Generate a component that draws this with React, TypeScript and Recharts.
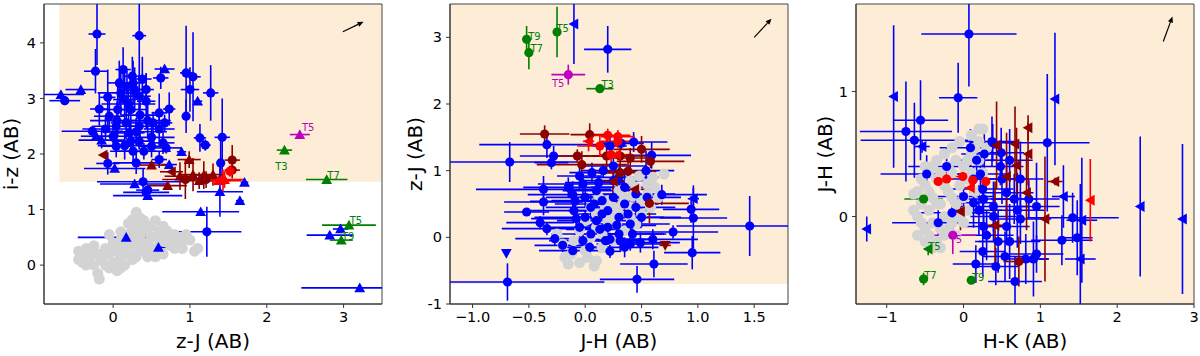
import React from "react";
import {
  ScatterChart,
  Scatter,
  XAxis,
  YAxis,
  ErrorBar,
  ReferenceArea,
  ReferenceLine,
} from "recharts";

// rows: [x, y, xerr, yerr, marker]  marker: o circle, ^ up, < left, v down
type Row = [number, number, number, number, string];
type Tag = [number, number, string, string];

// ---------- panel 1: i-z vs z-J ----------
const p1Gray: [number, number][] = [
  [-0.45, 0.25], [-0.35, 0.3], [-0.3, 0.15], [-0.25, 0.35], [-0.2, 0.2], [-0.15, 0.1],
  [-0.1, 0.3], [-0.05, 0.2], [0, 0.05], [0, 0.4], [0.05, 0.25], [0.1, 0.15], [0.1, 0.45],
  [0.15, 0.3], [0.2, 0.55], [0.2, 0.2], [0.25, 0.4], [0.3, 0.7], [0.3, 0.3], [0.35, 0.85],
  [0.35, 0.5], [0.4, 0.6], [0.4, 0.25], [0.45, 0.4], [0.5, 0.7], [0.5, 0.5], [0.55, 0.3],
  [0.6, 0.6], [0.6, 0.45], [0.65, 0.7], [0.7, 0.5], [0.75, 0.35], [0.8, 0.55], [0.85, 0.4],
  [0.9, 0.3], [1.0, 0.45], [0.95, 0.55], [-0.1, 0.0], [0.15, 0.0], [0.05, -0.1], [-0.25, 0.0],
  [-0.2, -0.15], [0.25, 0.1], [0.45, 0.15], [0.65, 0.2], [-0.4, 0.05], [0.2, 0.75], [0.45, 0.65],
  [0.55, 0.8], [0.1, 0.6], [-0.05, 0.55], [0.3, 0.95], [1.06, 0.25], [0.95, 0.47],
  [-0.38, 0.15], [-0.28, 0.22], [-0.12, 0.22], [0.02, 0.32], [0.08, 0.08], [0.18, 0.42],
  [0.28, 0.52], [0.38, 0.38], [0.48, 0.3], [0.58, 0.52], [0.68, 0.42], [0.78, 0.45],
  [0.88, 0.5], [0.7, 0.62], [0.25, 0.62], [0.35, 0.72], [0.4, 0.8], [-0.45, 0.1],
  [-0.35, 0.0], [-0.05, -0.05], [0.1, -0.05], [0.3, 0.15], [0.55, 0.15], [0.8, 0.3],
  [1.1, 0.3], [0.25, 0.82], [-0.18, -0.25],
];
const p1Blue: Row[] = [
  [-0.21, 4.16, 0.11, 0.56, "o"], [0.34, 4.13, 0.09, 0.6, "o"], [-0.23, 3.49, 0.15, 0.4, "o"],
  [0.67, 3.53, 0.13, 0.05, "^"], [0.62, 3.37, 0.1, 0.2, "o"], [0.13, 3.52, 0.1, 0.4, "o"],
  [0.95, 3.46, 0.08, 0.85, "o"], [1.04, 3.39, 0.1, 0.8, "o"], [1.0, 3.16, 0.12, 0.4, "o"],
  [1.27, 3.1, 0.1, 0.5, "o"], [-0.68, 3.07, 0.3, 0.05, "^"], [-0.63, 2.96, 0.2, 0.08, "o"],
  [-0.42, 3.16, 0.2, 0.05, "^"], [-0.07, 3.02, 0.1, 0.5, "o"], [-0.18, 2.81, 0.12, 0.3, "o"],
  [1.1, 2.95, 0.06, 0.05, "^"], [0.26, 3.28, 0.15, 0.4, "o"], [0.34, 3.04, 0.15, 0.5, "o"],
  [0.43, 2.95, 0.12, 0.5, "o"], [0.06, 2.8, 0.2, 0.5, "o"], [0.73, 2.81, 0.08, 0.3, "o"],
  [0.95, 2.68, 0.05, 0.3, "o"], [0.6, 2.74, 0.1, 0.35, "o"], [-0.05, 2.68, 0.2, 0.3, "o"],
  [0.17, 2.56, 0.2, 0.3, "o"], [0.34, 2.5, 0.2, 0.4, "o"], [0.52, 2.56, 0.15, 0.2, "o"],
  [0.67, 2.56, 0.1, 0.15, "o"], [-0.27, 2.41, 0.4, 0.1, "o"], [-0.22, 2.32, 0.2, 0.05, "^"],
  [0.0, 2.32, 0.25, 0.2, "o"], [0.21, 2.38, 0.2, 0.2, "o"], [1.13, 2.29, 0.08, 0.25, "o"],
  [1.42, 2.3, 0.1, 0.7, "o"], [1.2, 2.16, 0.07, 0.1, "o"], [0.65, 2.2, 0.15, 0.2, "o"],
  [0.69, 2.11, 0.2, 0.1, "o"], [0.5, 2.14, 0.15, 0.2, "o"], [0.26, 2.05, 0.3, 0.2, "o"],
  [0.04, 2.14, 0.2, 0.2, "o"], [0.89, 2.04, 0.06, 0.05, "^"], [0.6, 1.9, 0.1, 0.15, "o"],
  [0.3, 1.84, 0.3, 0.2, "o"], [-0.07, 1.83, 0.15, 0.2, "o"], [0.02, 1.74, 0.4, 0.05, "^"],
  [0.73, 1.81, 0.1, 0.05, "^"], [1.4, 1.84, 0.05, 0.4, "o"], [0.39, 1.5, 0.6, 0.25, "o"],
  [0.28, 1.46, 0.45, 0.05, "^"], [0.45, 1.35, 0.15, 0.1, "o"], [0.45, 1.25, 0.45, 0.05, "^"],
  [0.43, 1.31, 0.3, 0.05, "o"], [1.39, 1.32, 0.3, 0.45, "^"], [1.71, 1.49, 0.05, 0.05, "^"],
  [1.65, 1.16, 0.05, 0.05, "^"], [1.14, 0.96, 0.5, 0.05, "^"], [1.22, 0.6, 0.45, 0.45, "o"],
  [0.17, 0.5, 0.63, 0.05, "^"], [0.59, 0.32, 0.25, 0.05, "^"], [3.21, -0.41, 0.76, 0.02, "^"],
  [2.82, 0.54, 0.3, 0.03, "^"], [2.96, 0.65, 0.1, 0.03, "^"], [0.04, 2.5, 0.3, 0.2, "o"],
  [0.15, 2.98, 0.15, 0.5, "o"], [0.23, 2.8, 0.2, 0.45, "o"], [0.28, 3.16, 0.1, 0.4, "o"],
  [0.43, 3.16, 0.1, 0.3, "o"], [0.08, 3.28, 0.15, 0.4, "o"], [0.23, 2.23, 0.25, 0.2, "o"],
  [0.34, 2.23, 0.2, 0.15, "o"], [0.1, 3.1, 0.3, 0.4, "o"], [0.2, 2.9, 0.35, 0.3, "o"],
  [0.35, 2.7, 0.25, 0.4, "o"], [0.45, 2.6, 0.3, 0.3, "o"], [0.05, 2.6, 0.35, 0.35, "o"],
  [-0.1, 2.45, 0.3, 0.2, "o"], [0.3, 2.4, 0.4, 0.25, "o"], [0.5, 2.3, 0.3, 0.2, "o"],
  [0.15, 2.15, 0.35, 0.25, "o"], [0.4, 2.05, 0.35, 0.15, "o"], [-0.15, 2.25, 0.3, 0.15, "^"],
  [0.6, 2.45, 0.2, 0.3, "o"], [0.25, 3.4, 0.1, 0.35, "o"], [0.38, 3.35, 0.12, 0.4, "o"],
  [0.18, 3.2, 0.12, 0.3, "o"],
];
const p1DarkRed: Row[] = [
  [-0.13, 1.98, 0.03, 0.03, "<"], [0.5, 1.8, 0.2, 0.03, "^"], [0.99, 1.9, 0.15, 0.15, "^"],
  [0.71, 1.43, 0.25, 0.05, "^"], [0.76, 1.68, 0.15, 0.03, "<"], [0.87, 1.6, 0.2, 0.25, "^"],
  [1.04, 1.63, 0.2, 0.3, "^"], [0.94, 1.54, 0.3, 0.35, "o"], [1.18, 1.62, 0.1, 0.25, "^"],
  [1.3, 1.63, 0.15, 0.2, "^"], [1.55, 1.89, 0.1, 0.27, "o"], [1.55, 1.71, 0.1, 0.15, "o"],
  [1.12, 1.52, 0.25, 0.15, "^"], [1.21, 1.54, 0.1, 0.15, "o"],
];
const p1Red: Row[] = [
  [1.37, 1.52, 0.3, 0.03, "^"], [1.45, 1.54, 0.25, 0.15, "^"], [1.52, 1.69, 0.05, 0.1, "o"],
  [1.43, 1.52, 0.1, 0.2, "o"],
];
const p1Green: Row[] = [
  [2.23, 2.07, 0.1, 0.03, "^"], [2.78, 1.54, 0.27, 0.03, "^"], [3.07, 0.72, 0.35, 0.03, "^"],
  [2.97, 0.45, 0.15, 0.03, "^"],
];
const p1Magenta: Row[] = [[2.43, 2.35, 0.13, 0.03, "^"]];
const p1Tags: Tag[] = [
  [2.54, 2.47, "T5", "m"], [2.19, 1.77, "T3", "g"], [2.87, 1.62, "T7", "g"],
  [3.16, 0.8, "T5", "g"], [3.06, 0.51, "T9", "g"],
];

// ---------- panel 2: z-J vs J-H ----------
const p2Gray: [number, number][] = [
  [-0.15, -0.4], [-0.05, -0.38], [0.08, -0.43], [-0.2, -0.1], [-0.1, -0.05], [0.0, -0.2],
  [0.05, 0.0], [-0.05, 0.1], [0.1, 0.15], [0.15, 0.05], [0.2, 0.25], [0.1, 0.35], [0.0, 0.25],
  [0.25, 0.45], [0.3, 0.35], [0.2, 0.55], [0.35, 0.6], [0.4, 0.45], [0.3, 0.7], [0.45, 0.75],
  [0.5, 0.55], [0.4, 0.85], [0.55, 0.8], [0.6, 0.9], [0.7, 0.95], [0.62, 0.75], [0.5, 0.35],
  [0.45, 0.2], [0.35, 0.1], [0.25, -0.05], [0.15, -0.15], [-0.25, 0.05], [0.55, 0.65],
  [0.65, 0.6], [0.12, 0.6], [0.05, 0.45], [0.28, 0.2], [0.4, 0.3], [-0.12, -0.25], [0.02, -0.3],
  [-0.18, -0.3], [0.1, -0.35], [0.18, 0.45], [0.42, 0.62], [0.58, 0.45], [0.48, 0.92],
  [0.33, 0.5], [0.22, 0.3],
];
const p2Blue: Row[] = [
  [-0.1, 3.2, 0.02, 0.6, "<"], [0.2, 2.82, 0.21, 0.35, "o"], [-0.67, 1.13, 0.6, 0.3, "o"],
  [-0.34, 1.39, 0.6, 0.2, "o"], [-0.28, 1.22, 0.3, 0.15, "o"], [-0.3, 1.12, 0.15, 0.1, "o"],
  [-0.37, 0.72, 0.6, 0.2, "o"], [-0.37, 0.53, 0.35, 0.2, "o"], [-0.52, 0.38, 0.2, 0.05, "o"],
  [-0.4, 0.22, 0.3, 0.1, "o"], [-0.34, 0.13, 0.4, 0.1, "o"], [-0.27, -0.02, 0.35, 0.1, "o"],
  [-0.2, -0.12, 0.25, 0.1, "o"], [-0.11, -0.2, 0.3, 0.1, "o"], [-0.69, -0.67, 0.86, 0.28, "o"],
  [-0.7, -0.24, 0.02, 0.02, "v"], [0.46, -0.63, 0.33, 0.2, "o"], [0.61, -0.4, 0.3, 0.2, "o"],
  [1.46, 0.17, 0.65, 0.45, "o"], [0.96, 0.29, 0.3, 0.45, "o"], [0.96, 0.58, 0.05, 0.2, "<"],
  [0.94, 0.42, 0.25, 0.2, "o"], [0.95, -0.23, 0.25, 0.25, "o"], [0.78, 0.08, 0.4, 0.1, "o"],
  [0.68, 0.64, 0.4, 0.15, "o"], [0.59, 1.23, 0.35, 0.2, "o"], [0.54, 1.0, 0.25, 0.3, "o"],
  [0.43, 1.43, 0.3, 0.15, "o"], [0.22, 1.37, 0.15, 0.2, "o"], [0.32, 1.41, 0.2, 0.1, "o"],
  [-0.05, 0.92, 0.2, 0.2, "o"], [0.06, 0.97, 0.2, 0.15, "o"], [0.16, 1.0, 0.2, 0.1, "o"],
  [0.25, 1.07, 0.3, 0.2, "o"], [0.22, -0.03, 0.35, 0.1, "o"], [0.31, -0.05, 0.2, 0.15, "o"],
  [0.4, -0.1, 0.3, 0.1, "o"], [0.49, -0.08, 0.35, 0.15, "o"], [0.6, -0.03, 0.4, 0.15, "o"],
  [0.04, -0.15, 0.2, 0.2, "o"], [0.22, -0.21, 0.1, 0.1, "o"], [0.13, 0.12, 0.3, 0.1, "o"],
  [-0.11, 0.64, 0.4, 0.2, "o"], [-0.09, 0.54, 0.4, 0.15, "o"], [0.0, 0.6, 0.35, 0.15, "o"],
  [0.05, 0.45, 0.4, 0.2, "o"], [0.1, 0.7, 0.3, 0.15, "o"], [0.15, 0.55, 0.45, 0.1, "o"],
  [0.2, 0.4, 0.35, 0.2, "o"], [0.25, 0.6, 0.3, 0.15, "o"], [0.3, 0.3, 0.4, 0.1, "o"],
  [0.35, 0.5, 0.3, 0.2, "o"], [0.4, 0.2, 0.35, 0.15, "o"], [0.0, 0.3, 0.45, 0.1, "o"],
  [-0.05, 0.15, 0.3, 0.15, "o"], [0.1, 0.25, 0.35, 0.2, "o"], [0.2, 0.15, 0.3, 0.1, "o"],
  [0.3, 0.05, 0.4, 0.15, "o"], [0.15, 0.35, 0.25, 0.1, "o"], [0.05, 0.05, 0.35, 0.15, "o"],
  [-0.1, 0.4, 0.45, 0.1, "o"], [0.35, 0.75, 0.3, 0.2, "o"], [0.45, 0.45, 0.35, 0.15, "o"],
  [0.25, 0.85, 0.3, 0.2, "o"], [-0.02, 0.8, 0.4, 0.15, "o"], [0.12, 0.82, 0.3, 0.1, "o"],
  [0.38, 0.35, 0.25, 0.15, "o"], [0.28, 0.18, 0.35, 0.1, "o"], [0.18, -0.05, 0.3, 0.15, "o"],
  [0.08, 0.5, 0.35, 0.1, "o"], [-0.08, 0.28, 0.4, 0.15, "o"], [0.42, 0.05, 0.3, 0.1, "o"],
  [0.5, 0.3, 0.35, 0.15, "o"], [0.55, 0.6, 0.3, 0.2, "o"], [-0.15, 0.75, 0.4, 0.15, "o"],
  [0.3, 0.9, 0.35, 0.15, "o"], [0.45, 0.65, 0.35, 0.2, "o"], [0.35, -0.15, 0.3, 0.15, "o"],
  [-0.02, -0.05, 0.3, 0.15, "o"],
];
const p2DarkRed: Row[] = [
  [-0.36, 1.55, 0.22, 0.13, "o"], [0.04, 1.54, 0.17, 0.17, "o"], [-0.07, 1.22, 0.2, 0.1, "o"],
  [-0.03, 1.09, 0.4, 0.2, "o"], [0.5, 1.32, 0.25, 0.2, "o"], [0.4, 1.19, 0.2, 0.15, "o"],
  [0.31, 1.22, 0.25, 0.2, "o"], [0.19, 1.22, 0.2, 0.25, "o"], [0.38, 0.99, 0.25, 0.2, "o"],
  [0.58, 1.14, 0.3, 0.1, "o"], [0.57, 0.51, 0.35, 0.3, "o"], [0.25, 0.84, 0.15, 0.2, "<"],
  [0.44, 0.72, 0.1, 0.05, "<"], [0.71, -0.12, 0.05, 0.05, "v"], [0.31, 0.97, 0.2, 0.1, "o"],
];
const p2Red: Row[] = [
  [0.2, 1.53, 0.2, 0.1, "o"], [0.29, 1.51, 0.15, 0.1, "o"], [0.13, 1.37, 0.2, 0.15, "o"],
  [0.23, 1.24, 0.1, 0.2, "o"], [0.03, 1.44, 0.05, 0.15, "<"], [0.28, 1.24, 0.1, 0.05, "<"],
  [0.29, 1.44, 0.15, 0.1, "o"],
];
const p2Green: Row[] = [
  [-0.52, 2.97, 0.01, 0.2, "o"], [-0.5, 2.77, 0.02, 0.25, "o"], [-0.25, 3.08, 0.01, 0.38, "o"],
  [0.13, 2.23, 0.12, 0.05, "o"],
];
const p2Magenta: Row[] = [[-0.15, 2.44, 0.15, 0.15, "o"]];
const p2Tags: Tag[] = [
  [-0.45, 3.02, "T9", "g"], [-0.43, 2.83, "T7", "g"], [-0.2, 3.13, "T5", "g"],
  [-0.24, 2.31, "T5", "m"], [0.2, 2.3, "T3", "g"],
];

// ---------- panel 3: J-H vs H-K ----------
const p3Gray: [number, number][] = [
  [-0.6, 0.2], [-0.55, 0.1], [-0.5, 0.25], [-0.45, 0.05], [-0.4, 0.15], [-0.35, 0.3],
  [-0.3, 0.1], [-0.25, 0.0], [-0.2, 0.2], [-0.15, 0.35], [-0.1, 0.1], [-0.05, 0.25],
  [0.0, 0.4], [0.05, 0.45], [0.1, 0.5], [0.15, 0.55], [0.2, 0.6], [0.25, 0.7], [-0.5, -0.1],
  [-0.45, -0.15], [-0.4, -0.05], [-0.35, -0.2], [-0.3, -0.1], [-0.55, -0.05], [-0.6, 0.0],
  [-0.65, 0.18], [-0.3, 0.35], [-0.2, 0.4], [-0.1, 0.45], [0.0, 0.15], [0.05, 0.3],
  [-0.25, -0.15], [-0.15, -0.05], [-0.45, 0.35], [-0.6, -0.15], [0.1, 0.35], [0.2, 0.45],
  [-0.35, 0.45], [-0.5, 0.4], [-0.4, 0.4], [-0.25, 0.5], [-0.15, 0.55], [-0.05, 0.6],
  [0.1, 0.65], [0.2, 0.7], [-0.55, 0.3], [-0.45, 0.2], [-0.35, 0.1], [-0.25, 0.25],
  [-0.15, 0.15], [-0.05, 0.0], [0.05, 0.05], [0.15, 0.2], [0.25, 0.35], [-0.5, -0.2],
  [-0.4, -0.25], [-0.3, -0.25], [-0.2, -0.1], [0.3, 0.55], [-0.65, 0.05], [-0.1, -0.15],
  [0.0, -0.05],
];
const p3Blue: Row[] = [
  [0.07, 1.46, 0.62, 0.42, "o"], [-0.91, 0.96, 0.02, 0.57, "<"], [-0.07, 0.95, 0.25, 0.28, "o"],
  [1.19, 0.94, 0.02, 0.53, "<"], [-0.56, 0.77, 0.36, 0.32, "o"], [-0.75, 0.68, 0.6, 0.4, "o"],
  [-0.64, 0.61, 0.7, 0.3, "o"], [-0.54, 0.56, 0.1, 0.05, "<"], [1.09, 0.59, 0.55, 0.55, "o"],
  [-0.48, 0.34, 0.6, 0.15, "o"], [-1.26, -0.1, 0.02, 0.1, "<"], [2.3, 0.08, 0.02, 0.56, "<"],
  [2.85, -0.02, 0.02, 0.6, "<"], [1.3, 0.16, 0.15, 0.25, "<"], [1.42, -0.01, 0.6, 0.2, "o"],
  [1.54, -0.03, 0.2, 0.5, "<"], [1.52, -0.34, 0.2, 0.6, "<"], [1.48, -0.17, 0.2, 0.3, "o"],
  [1.28, -0.19, 0.4, 0.2, "o"], [0.95, -0.3, 0.35, 0.15, "o"], [0.67, -0.52, 0.35, 0.2, "o"],
  [0.42, -0.4, 0.3, 0.15, "o"], [0.16, -0.38, 0.3, 0.15, "o"], [0.25, -0.28, 0.3, 0.2, "o"],
  [0.54, -0.32, 0.3, 0.2, "o"], [0.6, -0.2, 0.4, 0.3, "o"], [0.81, -0.34, 0.3, 0.2, "o"],
  [0.91, -0.34, 0.2, 0.3, "o"], [-0.33, -0.05, 0.6, 0.1, "o"], [-0.15, 0.03, 0.5, 0.15, "o"],
  [0.09, 0.55, 0.4, 0.15, "o"], [0.27, 0.5, 0.3, 0.2, "o"], [0.17, 0.45, 0.25, 0.1, "o"],
  [0.49, 0.51, 0.3, 0.2, "o"], [0.38, 0.59, 0.3, 0.15, "o"], [0.22, 0.34, 0.35, 0.15, "o"],
  [0.13, 0.3, 0.3, 0.1, "o"], [0.25, 0.22, 0.4, 0.2, "o"], [0.0, 0.16, 0.4, 0.15, "o"],
  [0.26, 0.14, 0.35, 0.25, "o"], [0.13, 0.11, 0.3, 0.2, "o"], [0.39, 0.08, 0.45, 0.2, "o"],
  [0.56, 0.19, 0.35, 0.25, "o"], [0.74, 0.3, 0.3, 0.3, "o"], [0.85, 0.14, 0.4, 0.15, "o"],
  [0.95, 0.08, 0.3, 0.35, "o"], [0.74, -0.02, 0.4, 0.2, "o"], [0.56, -0.08, 0.3, 0.15, "o"],
  [0.26, -0.08, 0.3, 0.1, "o"], [0.39, 0.0, 0.3, 0.2, "o"], [-0.22, 0.4, 0.5, 0.15, "o"],
  [0.37, 0.6, 0.35, 0.2, "o"], [0.48, 0.4, 0.3, 0.15, "o"], [0.66, 0.14, 0.3, 0.2, "o"],
  [0.3, -0.15, 0.35, 0.2, "o"], [0.45, -0.2, 0.3, 0.25, "o"], [0.7, 0.05, 0.35, 0.3, "o"],
  [0.5, 0.3, 0.35, 0.2, "o"], [0.2, 0.05, 0.3, 0.2, "o"], [0.6, 0.45, 0.3, 0.25, "o"],
];
const p3DarkRed: Row[] = [
  [0.84, 0.71, 0.03, 0.1, "<"], [0.67, 0.58, 0.03, 0.3, "<"], [0.43, 0.57, 0.03, 0.35, "<"],
  [0.84, 0.5, 0.03, 0.25, "<"], [0.69, 0.41, 0.03, 0.3, "<"], [0.56, 0.32, 0.03, 0.35, "<"],
  [1.19, 0.28, 0.1, 0.03, "<"], [0.82, 0.19, 0.03, 0.3, "<"], [-0.04, 0.04, 0.03, 0.15, "<"],
  [1.06, -0.02, 0.03, 0.5, "<"], [0.41, -0.07, 0.2, 0.35, "<"], [0.72, -0.36, 0.2, 0.2, "o"],
];
const p3Red: Row[] = [
  [1.65, 0.13, 0.02, 0.33, "<"], [-0.33, 0.28, 0.05, 0.03, "o"], [-0.22, 0.3, 0.1, 0.05, "o"],
  [-0.01, 0.32, 0.2, 0.05, "o"], [0.12, 0.29, 0.05, 0.05, "o"], [0.29, 0.28, 0.05, 0.05, "o"],
  [0.09, 0.23, 0.1, 0.05, "<"],
];
const p3Green: Row[] = [
  [-0.52, 0.14, 0.25, 0.03, "o"], [-0.46, -0.26, 0.05, 0.05, "<"], [-0.52, -0.5, 0.05, 0.05, "o"],
  [0.1, -0.51, 0.02, 0.02, "o"],
];
const p3Magenta: Row[] = [[-0.14, -0.15, 0.3, 0.15, "o"]];
const p3Tags: Tag[] = [
  [-0.38, -0.24, "T5", "g"], [-0.43, -0.47, "T7", "g"], [0.19, -0.49, "T9", "g"],
  [-0.1, -0.18, "T5", "m"],
];

// reddening vectors, [start, end] in data units
const p1Arrow: [number, number][] = [[2.99, 4.2], [3.26, 4.38]];
const p2Arrow: [number, number][] = [[1.5, 3.0], [1.654, 3.28]];
const p3Arrow: [number, number][] = [[2.6, 1.4], [2.72, 1.6]];

const COL = {
  gray: "#d3d3d3",
  blue: "#0000ff",
  darkred: "#8b0000",
  red: "#ff0000",
  green: "#008000",
  magenta: "#bf00bf",
  shade: "#fdedd6",
};

const toPts = (rows: Row[]) => rows.map(([x, y, ex, ey, m]) => ({ x, y, ex, ey, m }));
const grayPts = (rows: [number, number][]) => rows.map(([x, y]) => ({ x, y, m: "o" }));

function drawMarker(p: any, color: string, r: number) {
  const { cx, cy, payload } = p;
  if (cx == null || cy == null) return <g />;
  const m = payload?.m ?? "o";
  if (m === "o") return <circle cx={cx} cy={cy} r={r} fill={color} />;
  const s = r + 0.8;
  let pts = "";
  if (m === "^") pts = `${cx},${cy - s} ${cx - s},${cy + s * 0.8} ${cx + s},${cy + s * 0.8}`;
  if (m === "<") pts = `${cx - s},${cy} ${cx + s * 0.8},${cy - s} ${cx + s * 0.8},${cy + s}`;
  if (m === "v") pts = `${cx},${cy + s} ${cx - s},${cy - s * 0.8} ${cx + s},${cy - s * 0.8}`;
  return <polygon points={pts} fill={color} />;
}

function ArrowShape(p: any) {
  const { x1, y1, x2, y2 } = p;
  if ([x1, y1, x2, y2].some((v) => v == null || isNaN(v))) return <g />;
  const a = Math.atan2(y2 - y1, x2 - x1);
  const L = 6;
  const W = 2.6;
  const bx = x2 - L * Math.cos(a);
  const by = y2 - L * Math.sin(a);
  const px = -Math.sin(a) * W;
  const py = Math.cos(a) * W;
  return (
    <g>
      <line x1={x1} y1={y1} x2={bx} y2={by} stroke="#000" strokeWidth={1.2} />
      <polygon points={`${x2},${y2} ${bx + px},${by + py} ${bx - px},${by - py}`} fill="#000" />
    </g>
  );
}

interface PanelProps {
  left: number;
  yAxisW: number;
  marginRight: number;
  xDomain: [number, number];
  yDomain: [number, number];
  xTicks: number[];
  yTicks: number[];
  xFmt: (v: number) => string;
  yFmt: (v: number) => string;
  xLabel: string;
  yLabel: string;
  yLabelOffset: number;
  shade: [number, number, number, number];
  gray: [number, number][];
  blue: Row[];
  darkred: Row[];
  red: Row[];
  green: Row[];
  magenta: Row[];
  tags: Tag[];
  arrow: [number, number][];
}

function Panel(cfg: PanelProps) {
  const groups: { key: string; rows: Row[]; color: string }[] = [
    { key: "blue", rows: cfg.blue, color: COL.blue },
    { key: "darkred", rows: cfg.darkred, color: COL.darkred },
    { key: "red", rows: cfg.red, color: COL.red },
    { key: "green", rows: cfg.green, color: COL.green },
    { key: "magenta", rows: cfg.magenta, color: COL.magenta },
  ];
  const tagData = cfg.tags.map(([x, y, t, c]) => ({ x, y, t, c }));
  const [x1, x2, y1, y2] = cfg.shade;
  const [xmin, xmax] = cfg.xDomain;
  const [ymin, ymax] = cfg.yDomain;
  // error bars are cut at the frame, like matplotlib's clipping.
  // recharts hands us the scatter point, whose own x/y are pixels, so read the payload.
  const xErr = (d: any) => {
    const v = d.payload ?? d;
    return [Math.max(0, Math.min(v.ex, v.x - xmin)), Math.max(0, Math.min(v.ex, xmax - v.x))];
  };
  const yErr = (d: any) => {
    const v = d.payload ?? d;
    return [Math.max(0, Math.min(v.ey, v.y - ymin)), Math.max(0, Math.min(v.ey, ymax - v.y))];
  };

  return (
    <div style={{ position: "absolute", left: cfg.left, top: 0 }}>
      <ScatterChart
        width={400}
        height={356}
        margin={{ top: 4, right: cfg.marginRight, bottom: 0, left: 0 }}
      >
        <ReferenceArea x1={x1} x2={x2} y1={y1} y2={y2} fill={COL.shade} fillOpacity={1} stroke="none" />
        <XAxis
          type="number"
          dataKey="x"
          domain={cfg.xDomain}
          allowDataOverflow
          ticks={cfg.xTicks}
          tickFormatter={cfg.xFmt}
          height={52}
          tickSize={4}
          tickMargin={4}
          stroke="#333"
          tick={{ fontSize: 14.5, fill: "#000" }}
          label={{ value: cfg.xLabel, position: "insideBottom", offset: 8, fontSize: 20, fill: "#000" }}
        />
        <YAxis
          type="number"
          dataKey="y"
          domain={cfg.yDomain}
          allowDataOverflow
          ticks={cfg.yTicks}
          tickFormatter={cfg.yFmt}
          width={cfg.yAxisW}
          tickSize={4}
          tickMargin={4}
          stroke="#333"
          tick={{ fontSize: 14.5, fill: "#000" }}
          label={{
            value: cfg.yLabel,
            angle: -90,
            position: "insideLeft",
            offset: cfg.yLabelOffset,
            fontSize: 20,
            fill: "#000",
            style: { textAnchor: "middle" },
          }}
        />
        <Scatter
          data={grayPts(cfg.gray)}
          isAnimationActive={false}
          shape={(p: any) => drawMarker(p, COL.gray, 5.5)}
        />
        {groups.map((g) => (
          <Scatter
            key={g.key}
            data={toPts(g.rows)}
            isAnimationActive={false}
            shape={(p: any) => drawMarker(p, g.color, 4.6)}
          >
            <ErrorBar dataKey={xErr} direction="x" width={0} stroke={g.color} strokeWidth={1.6} />
            <ErrorBar dataKey={yErr} direction="y" width={0} stroke={g.color} strokeWidth={1.6} />
          </Scatter>
        ))}
        <Scatter
          data={tagData}
          isAnimationActive={false}
          shape={(p: any) =>
            p.cx == null ? (
              <g />
            ) : (
              <text
                x={p.cx}
                y={p.cy}
                fontSize={10}
                textAnchor="middle"
                dominantBaseline="central"
                fill={p.payload.c === "m" ? COL.magenta : COL.green}
              >
                {p.payload.t}
              </text>
            )
          }
        />
        <ReferenceLine
          segment={[
            { x: cfg.arrow[0][0], y: cfg.arrow[0][1] },
            { x: cfg.arrow[1][0], y: cfg.arrow[1][1] },
          ]}
          shape={ArrowShape}
        />
        <ReferenceArea
          x1={xmin}
          x2={xmax}
          y1={ymin}
          y2={ymax}
          fill="none"
          stroke="#444"
          strokeWidth={1}
        />
      </ScatterChart>
    </div>
  );
}

const minus = (s: string) => s.replace("-", "\u2212");

export default function App() {
  return (
    <div
      style={{
        position: "absolute",
        left: 0,
        top: 0,
        width: 1200,
        height: 356,
        background: "#fff",
        fontFamily: "'DejaVu Sans', sans-serif",
      }}
    >
      <Panel
        left={0}
        yAxisW={44}
        marginRight={18}
        xDomain={[-0.9, 3.5]}
        yDomain={[-0.7, 4.7]}
        xTicks={[0, 1, 2, 3]}
        yTicks={[0, 1, 2, 3, 4]}
        xFmt={(v) => String(v)}
        yFmt={(v) => String(v)}
        xLabel="z-J (AB)"
        yLabel="i-z (AB)"
        yLabelOffset={11}
        shade={[-0.7, 3.5, 1.5, 4.7]}
        gray={p1Gray}
        blue={p1Blue}
        darkred={p1DarkRed}
        red={p1Red}
        green={p1Green}
        magenta={p1Magenta}
        tags={p1Tags}
        arrow={p1Arrow}
      />
      <Panel
        left={400}
        yAxisW={50}
        marginRight={12}
        xDomain={[-1.2, 1.8]}
        yDomain={[-1, 3.5]}
        xTicks={[-1, -0.5, 0, 0.5, 1, 1.5]}
        yTicks={[-1, 0, 1, 2, 3]}
        xFmt={(v) => minus(v.toFixed(1))}
        yFmt={(v) => String(v)}
        xLabel="J-H (AB)"
        yLabel="z-J (AB)"
        yLabelOffset={15}
        shade={[-1.2, 1.8, -0.7, 3.5]}
        gray={p2Gray}
        blue={p2Blue}
        darkred={p2DarkRed}
        red={p2Red}
        green={p2Green}
        magenta={p2Magenta}
        tags={p2Tags}
        arrow={p2Arrow}
      />
      <Panel
        left={800}
        yAxisW={56}
        marginRight={6}
        xDomain={[-1.4, 3]}
        yDomain={[-0.7, 1.7]}
        xTicks={[-1, 0, 1, 2, 3]}
        yTicks={[0, 1]}
        xFmt={(v) => minus(String(v))}
        yFmt={(v) => String(v)}
        xLabel="H-K (AB)"
        yLabel="J-H (AB)"
        yLabelOffset={25}
        shade={[-1.4, 3, -0.7, 1.7]}
        gray={p3Gray}
        blue={p3Blue}
        darkred={p3DarkRed}
        red={p3Red}
        green={p3Green}
        magenta={p3Magenta}
        tags={p3Tags}
        arrow={p3Arrow}
      />
    </div>
  );
}
